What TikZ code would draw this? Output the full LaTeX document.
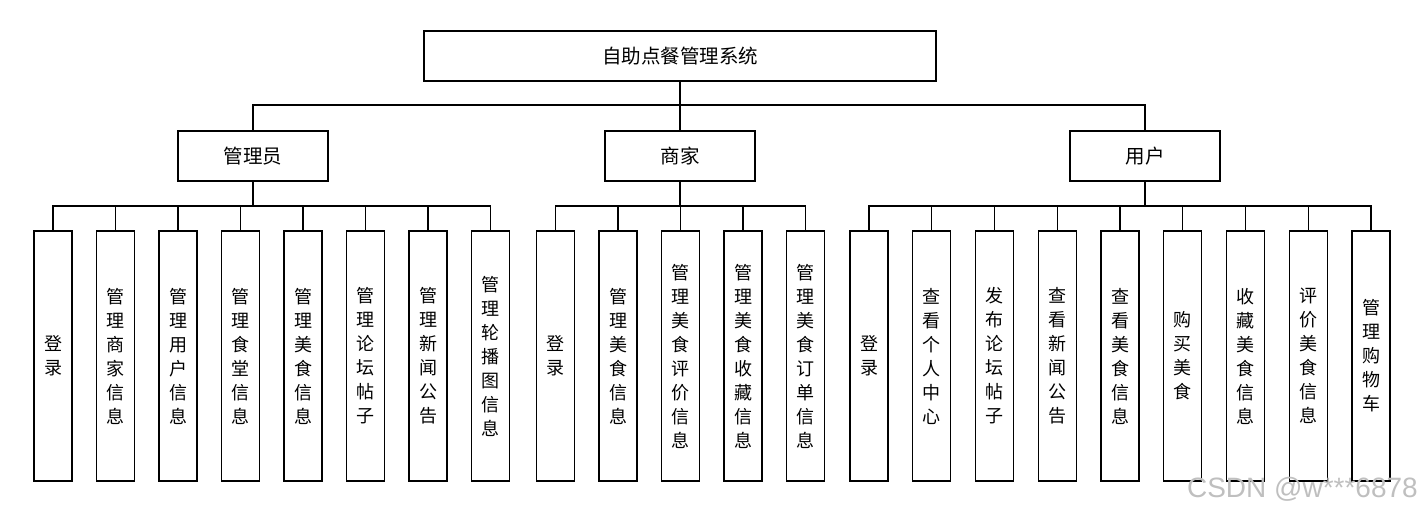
\documentclass[tikz,border=0pt]{standalone}
\usepackage{fontspec}
\newfontfamily\cjk{Noto Sans CJK SC}
\newfontfamily\wmfont{Liberation Sans}
\begin{document}
\begin{tikzpicture}[x=1pt,y=-1pt,
  box/.style={draw=black,line width=1.3pt,inner sep=0pt,font=\cjk\fontsize{18}{24}\selectfont},
  topbox/.style={box,minimum width=512pt,minimum height=50pt,font=\cjk\fontsize{19.5}{24}\selectfont},
  midbox/.style={box,minimum width=150pt,minimum height=50pt,font=\cjk\fontsize{19.5}{24}\selectfont},
  leaf/.style={box,minimum width=38pt,minimum height=250pt,align=center},
  conn/.style={draw=black,line width=1.2pt}]
\useasboundingbox (0,0) rectangle (1421,515);

\node[topbox] (top) at (680,56) {自助点餐管理系统};
\node[midbox] (adm) at (253,156) {管理员};
\node[midbox] (mer) at (680,156) {商家};
\node[midbox] (usr) at (1145,156) {用户};

\coordinate (b0) at (680,105);
\coordinate (ba) at (253,206);
\coordinate (bm) at (680,206);
\coordinate (bu) at (1145,206);

% admin leaves
\node[leaf] (a1) at (53,356) {登\\录};
\node[leaf] (a2) at (115.5,356) {管\\理\\商\\家\\信\\息};
\node[leaf] (a3) at (178,356) {管\\理\\用\\户\\信\\息};
\node[leaf] (a4) at (240.5,356) {管\\理\\食\\堂\\信\\息};
\node[leaf] (a5) at (303,356) {管\\理\\美\\食\\信\\息};
\node[leaf] (a6) at (365.5,356) {管\\理\\论\\坛\\帖\\子};
\node[leaf] (a7) at (428,356) {管\\理\\新\\闻\\公\\告};
\node[leaf] (a8) at (490.5,356) {管\\理\\轮\\播\\图\\信\\息};

% merchant leaves
\node[leaf] (m1) at (555.5,356) {登\\录};
\node[leaf] (m2) at (618,356) {管\\理\\美\\食\\信\\息};
\node[leaf] (m3) at (680.5,356) {管\\理\\美\\食\\评\\价\\信\\息};
\node[leaf] (m4) at (743,356) {管\\理\\美\\食\\收\\藏\\信\\息};
\node[leaf] (m5) at (805.5,356) {管\\理\\美\\食\\订\\单\\信\\息};

% user leaves
\node[leaf] (u1) at (869,356) {登\\录};
\node[leaf] (u2) at (931.75,356) {查\\看\\个\\人\\中\\心};
\node[leaf] (u3) at (994.5,356) {发\\布\\论\\坛\\帖\\子};
\node[leaf] (u4) at (1057.25,356) {查\\看\\新\\闻\\公\\告};
\node[leaf] (u5) at (1120,356) {查\\看\\美\\食\\信\\息};
\node[leaf] (u6) at (1182.75,356) {购\\买\\美\\食};
\node[leaf] (u7) at (1245.5,356) {收\\藏\\美\\食\\信\\息};
\node[leaf] (u8) at (1308.25,356) {评\\价\\美\\食\\信\\息};
\node[leaf] (u9) at (1371,356) {管\\理\\购\\物\\车};

% connectors level 1
\draw[conn] (top.south) -- (b0);
\foreach \n in {adm,mer,usr} \draw[conn] (\n.north) |- (b0);

% connectors level 2
\draw[conn] (adm.south) -- (ba);
\foreach \n in {a1,a2,a3,a4,a5,a6,a7,a8} \draw[conn] (\n.north) |- (ba);
\draw[conn] (mer.south) -- (bm);
\foreach \n in {m1,m2,m3,m4,m5} \draw[conn] (\n.north) |- (bm);
\draw[conn] (usr.south) -- (bu);
\foreach \n in {u1,u2,u3,u4,u5,u6,u7,u8,u9} \draw[conn] (\n.north) |- (bu);

% watermark
\node[anchor=east,text=black!25,font=\wmfont\fontsize{28}{28}\selectfont,inner sep=0pt] (wm) at (1418,489) {CSDN @w***6878};
\end{tikzpicture}
\end{document}
